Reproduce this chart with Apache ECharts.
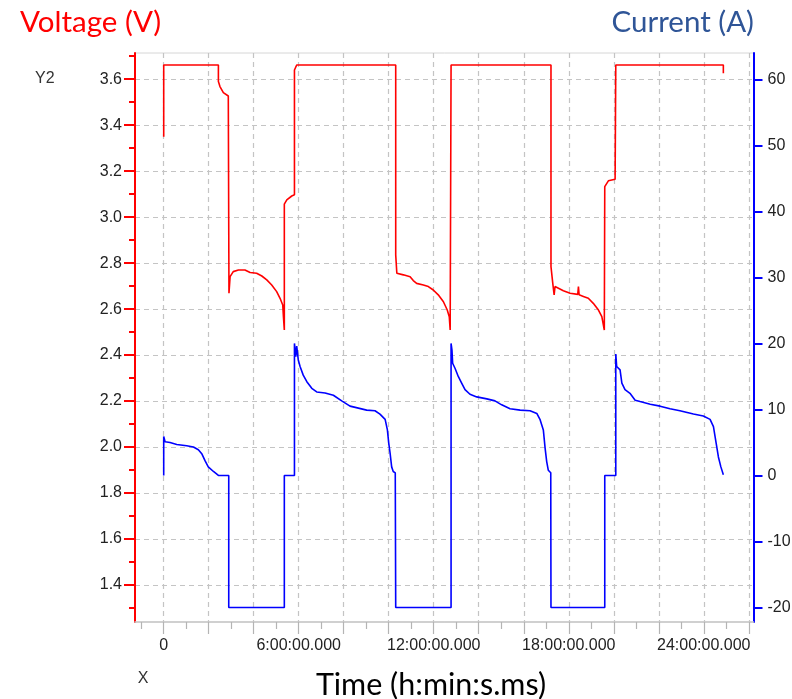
<!DOCTYPE html>
<html><head><meta charset="utf-8">
<script src="https://cdn.jsdelivr.net/npm/echarts@6/dist/echarts.min.js"></script>
<style>html,body{margin:0;padding:0;background:#fff}#c{width:792px;height:699px}</style>
</head><body><div id="c"></div>
<script>
// time in hours, voltage in V
const voltage = [
  [0, 3.35], [0, 3.662], [2.43, 3.662], [2.43, 3.59], [2.50, 3.568], [2.65, 3.542], [2.87, 3.527],
  [2.90, 3.527], [2.90, 2.669], [2.95, 2.741], [3.09, 2.763], [3.32, 2.770], [3.61, 2.770],
  [3.84, 2.759], [4.13, 2.756], [4.36, 2.744], [4.58, 2.727], [4.80, 2.705], [5.02, 2.676],
  [5.17, 2.647], [5.29, 2.618], [5.32, 2.567], [5.36, 2.509], [5.36, 3.057], [5.47, 3.075],
  [5.69, 3.092], [5.81, 3.097], [5.81, 3.640], [5.91, 3.662], [10.31, 3.662], [10.31, 2.836],
  [10.36, 2.756], [10.65, 2.749], [10.95, 2.741], [11.09, 2.724], [11.24, 2.712], [11.54, 2.705],
  [11.76, 2.698], [11.98, 2.683], [12.20, 2.662], [12.43, 2.632], [12.60, 2.596], [12.69, 2.567],
  [12.73, 2.509], [12.77, 2.509], [12.77, 3.662], [17.21, 3.662], [17.21, 2.785], [17.29, 2.712],
  [17.35, 2.662], [17.39, 2.698], [17.47, 2.691], [17.76, 2.680], [18.06, 2.669], [18.40, 2.664],
  [18.43, 2.698], [18.46, 2.662], [18.65, 2.655], [18.87, 2.647], [19.09, 2.625], [19.32, 2.596],
  [19.47, 2.567], [19.58, 2.509], [19.60, 2.509], [19.60, 3.133], [19.76, 3.158], [20.06, 3.165],
  [20.09, 3.165], [20.09, 3.662], [24.87, 3.662], [24.87, 3.626]
];
// time in hours, current in A
const current = [
  [0, 0], [0, 5.9], [0.06, 5.1], [0.28, 5.0], [0.58, 4.7], [1.02, 4.5], [1.32, 4.3], [1.54, 3.9],
  [1.69, 3.3], [1.84, 2.2], [1.98, 1.3], [2.21, 0.6], [2.43, 0], [2.89, 0], [2.89, -20],
  [5.36, -20], [5.36, 0], [5.81, 0], [5.81, 20.0], [5.87, 18.0], [5.91, 19.6], [5.98, 17.5],
  [6.06, 16.5], [6.20, 15.2], [6.36, 14.2], [6.58, 13.2], [6.80, 12.65], [7.17, 12.5], [7.54, 12.15],
  [7.91, 11.3], [8.28, 10.5], [8.65, 10.2], [9.02, 9.9], [9.39, 9.8], [9.61, 9.3], [9.84, 8.5],
  [9.94, 6.9], [10.00, 4.9], [10.06, 3.4], [10.13, 1.3], [10.20, 0.6], [10.29, 0.4], [10.31, 0.4],
  [10.31, -20], [12.77, -20], [12.77, 20.0], [12.81, 19.0], [12.84, 17.0], [12.95, 16.2],
  [13.09, 15.0], [13.24, 14.0], [13.39, 13.0], [13.61, 12.3], [13.91, 11.9], [14.36, 11.6],
  [14.72, 11.3], [15.02, 10.7], [15.39, 10.1], [15.84, 9.9], [16.28, 9.8], [16.58, 9.4],
  [16.72, 8.5], [16.87, 6.9], [16.95, 4.1], [17.02, 2.1], [17.09, 0.8], [17.20, 0.4], [17.21, 0.4],
  [17.21, -20], [19.60, -20], [19.60, 0], [20.09, 0], [20.09, 18.4], [20.13, 16.5], [20.28, 16.0],
  [20.36, 14.0], [20.50, 13.0], [20.72, 12.45], [20.95, 11.4], [21.17, 11.2], [21.62, 10.8],
  [22.06, 10.5], [22.50, 10.1], [22.94, 9.8], [23.54, 9.3], [23.98, 9.0], [24.28, 8.5],
  [24.43, 7.4], [24.55, 4.9], [24.65, 2.8], [24.76, 1.3], [24.87, 0.1]
];
const voltTicks = [1.4, 1.6, 1.8, 2.0, 2.2, 2.4, 2.6, 2.8, 3.0, 3.2, 3.4, 3.6];
const voltMinorTicks = [1.3, 1.5, 1.7, 1.9, 2.1, 2.3, 2.5, 2.7, 2.9, 3.1, 3.3, 3.5, 3.7];
const currentTicks = [-20, -10, 0, 10, 20, 30, 40, 50, 60];
const timeLabelHours = [0, 6, 12, 18, 24];
const timeMajorHours = [0, 2, 4, 6, 8, 10, 12, 14, 16, 18, 20, 22, 24, 26];
const timeMinorHours = [-1, 1, 3, 5, 7, 9, 11, 13, 15, 17, 19, 21, 23, 25];

const X_MIN = -1.276, X_MAX = 26.21;
const V_MIN = 1.239, V_MAX = 3.714;
const I_MIN = -22.2, I_MAX = 64.0;

const labelFont = {color: '#222', fontSize: 16, fontFamily: 'Liberation Sans'};
const gridDash = {type: [5, 4], color: '#c4c4c4', width: 1.2};

const chart = echarts.init(document.getElementById('c'), null, {renderer: 'canvas'});
chart.setOption({
  animation: false,
  backgroundColor: '#fff',
  grid: {left: 135, right: 38.5, top: 53, bottom: 77, show: true, borderColor: '#d6d6d6', borderWidth: 1, containLabel: false, outerBoundsMode: 'none'},
  xAxis: [
    {
      type: 'value', min: X_MIN, max: X_MAX, position: 'bottom',
      axisLine: {show: true, onZero: false, lineStyle: {color: '#c8c8c8', width: 1.5}},
      axisTick: {show: true, customValues: timeMinorHours, length: 7, lineStyle: {color: '#b4b4b4', width: 1.2}},
      axisLabel: Object.assign({customValues: timeLabelHours, margin: 16,
        formatter: v => v === 0 ? '0' : v + ':00:00.000'}, labelFont),
      splitLine: {show: false}
    },
    {
      type: 'value', min: X_MIN, max: X_MAX, position: 'bottom', offset: 0,
      axisLine: {show: false, onZero: false},
      axisTick: {show: true, customValues: timeMajorHours, length: 12, lineStyle: {color: '#b4b4b4', width: 1.2}},
      axisLabel: {show: false},
      splitLine: {show: true, lineStyle: gridDash}
    }
  ],
  yAxis: [
    {
      type: 'value', min: V_MIN, max: V_MAX, position: 'left', offset: 0,
      axisLine: {show: true, onZero: false, lineStyle: {color: '#ff0000', width: 2}},
      axisTick: {show: true, customValues: voltTicks, length: 11, lineStyle: {color: '#ff0000', width: 2}},
      axisLabel: Object.assign({customValues: voltTicks, margin: 13, formatter: v => v.toFixed(1)}, labelFont),
      splitLine: {show: true, lineStyle: gridDash}
    },
    {
      type: 'value', min: I_MIN, max: I_MAX, position: 'right', offset: 0,
      axisLine: {show: true, onZero: false, lineStyle: {color: '#0000ff', width: 2}},
      axisTick: {show: true, customValues: currentTicks, length: 9, lineStyle: {color: '#0000ff', width: 2}},
      axisLabel: Object.assign({customValues: currentTicks, margin: 14}, labelFont),
      splitLine: {show: false}
    },
    {
      type: 'value', min: V_MIN, max: V_MAX, position: 'left', offset: 0,
      axisLine: {show: false, onZero: false},
      axisTick: {show: true, customValues: voltMinorTicks, length: 6, lineStyle: {color: '#ff0000', width: 2}},
      axisLabel: {show: false},
      splitLine: {show: false}
    }
  ],
  series: [
    {
      name: 'Voltage (V)', type: 'line', xAxisIndex: 0, yAxisIndex: 0, data: voltage,
      symbol: 'none', lineStyle: {color: '#ff0000', width: 1.6}, z: 3
    },
    {
      name: 'Current (A)', type: 'line', xAxisIndex: 0, yAxisIndex: 1, data: current,
      symbol: 'none', lineStyle: {color: '#0000ff', width: 1.6}, z: 3
    }
  ],
  graphic: [
    {type: 'text', x: 20, y: 22, style: {text: 'Voltage (V)', fontSize: 29.5, fontFamily: 'Lato', fill: '#ff0000', align: 'left', verticalAlign: 'middle'}},
    {type: 'text', x: 754, y: 22, style: {text: 'Current (A)', fontSize: 29.5, fontFamily: 'Lato', fill: '#2f5597', align: 'right', verticalAlign: 'middle'}},
    {type: 'text', x: 35, y: 79, style: {text: 'Y2', fontSize: 16, fontFamily: 'Liberation Sans', fill: '#333', align: 'left', verticalAlign: 'middle'}},
    {type: 'text', x: 143, y: 679, style: {text: 'X', fontSize: 16, fontFamily: 'Liberation Sans', fill: '#333', align: 'center', verticalAlign: 'middle'}},
    {type: 'text', x: 431, y: 685, style: {text: 'Time (h:min:s.ms)', fontSize: 30.5, fontFamily: 'Lato', fill: '#000', align: 'center', verticalAlign: 'middle'}}
  ]
});
</script></body></html>
